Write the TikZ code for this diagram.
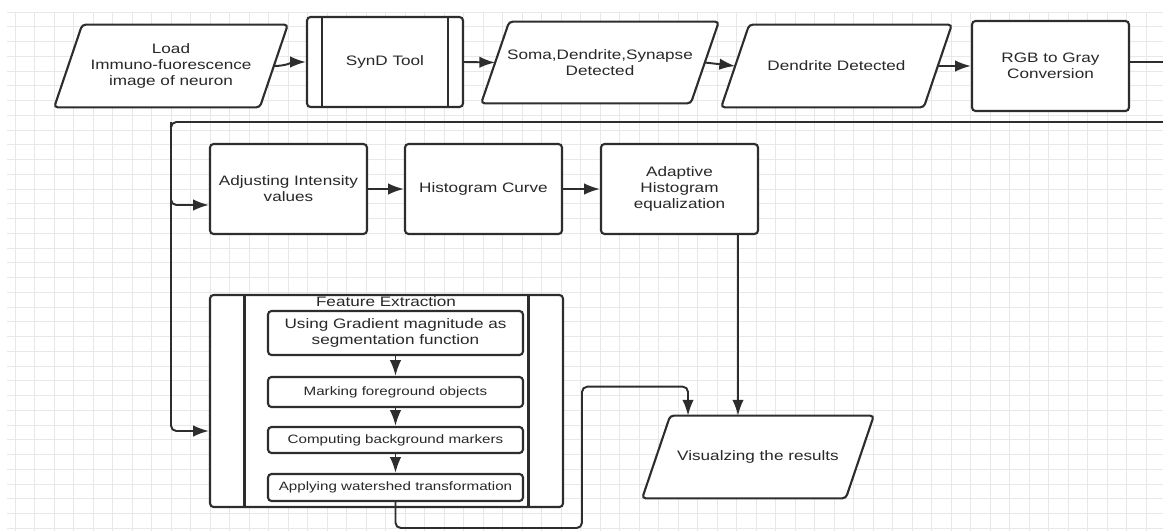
\documentclass[tikz,border=0pt]{standalone}
\usepackage{fontspec}
\setmainfont{Liberation Sans}[FakeStretch=1.25]
\usetikzlibrary{arrows.meta}
\definecolor{lcol}{RGB}{45,45,45}
\definecolor{tcol}{RGB}{40,40,40}
\definecolor{gcol}{RGB}{232,232,232}
\pgfdeclarelayer{back}
\pgfdeclarelayer{frames}
\pgfsetlayers{back,frames,main}
\tikzset{procbox/.style={draw=lcol,line width=1.2pt,rounded corners=2pt,fill=white,align=center,text=tcol,font=\fontsize{7.8}{9.1}\selectfont,inner sep=0pt}}
\tikzset{iobox/.style={align=center,text=tcol,font=\fontsize{7.8}{9.1}\selectfont,inner sep=0pt}}
\tikzset{subbox/.style={procbox,font=\fontsize{6.9}{8}\selectfont}}
\tikzset{ioline/.style={draw=lcol,line width=1.2pt,rounded corners=2pt,fill=white}}
\tikzset{barline/.style={draw=lcol,line width=1.2pt}}
\tikzset{edge/.style={draw=lcol,line width=1.1pt,-{Latex[length=9pt,width=6.5pt]}}}
\tikzset{wire/.style={draw=lcol,line width=1.1pt}}
\newcommand{\ioframe}[1]{\begin{pgfonlayer}{frames}\path[ioline] ([xshift=0.28cm]#1.north west) -- ([xshift=0.28cm]#1.north east) -- ([xshift=-0.28cm]#1.south east) -- ([xshift=-0.28cm]#1.south west) -- cycle;\end{pgfonlayer}}
\newcommand{\sidebars}[2]{\draw[barline] ([xshift=#2]#1.north west) -- ([xshift=#2]#1.south west); \draw[barline] ([xshift=-#2]#1.north east) -- ([xshift=-#2]#1.south east);}

\begin{document}
\begin{tikzpicture}[x=0.02cm,y=-0.02cm]
\useasboundingbox (0,0) rectangle (1163,531);

% grid paper
\begin{pgfonlayer}{back}
\begin{scope}
\clip (7,12) rectangle (1163,531);
\foreach \gx in {0,...,59} \draw[gcol,line width=0.45pt] (15+19.5*\gx,12) -- (15+19.5*\gx,531);
\foreach \gy in {0,...,35} \draw[gcol,line width=0.45pt] (7,12+14.75*\gy) -- (1163,12+14.75*\gy);
\end{scope}
\end{pgfonlayer}

% top row
\node [iobox,minimum width=4.1cm,minimum height=1.64cm] (load) at (171,66) {Load\\Immuno-fuorescence\\image of neuron};
\ioframe{load}
\node [procbox,minimum width=3.12cm,minimum height=1.8cm] (synd) at (385,62) {SynD Tool};
\sidebars{synd}{0.32cm}
\node [iobox,minimum width=4.18cm,minimum height=1.62cm] (soma) at (600,62.5) {Soma,Dendrite,Synapse\\Detected};
\ioframe{soma}
\node [iobox,minimum width=4.04cm,minimum height=1.64cm] (dend) at (836.5,66) {Dendrite Detected};
\ioframe{dend}
\node [procbox,minimum width=3.14cm,minimum height=1.8cm] (rgb) at (1050.5,66) {RGB to Gray\\Conversion};

% middle row
\node [procbox,minimum width=3.14cm,minimum height=1.8cm] (adj) at (288.5,189) {Adjusting Intensity\\values};
\node [procbox,minimum width=3.14cm,minimum height=1.8cm] (hist) at (483.5,189) {Histogram Curve};
\node [procbox,minimum width=3.14cm,minimum height=1.8cm] (adapt) at (679.5,189) {Adaptive\\Histogram\\equalization};

% feature extraction block
\node [procbox,minimum width=7.06cm,minimum height=4.24cm] (feat) at (386.5,401) {};
\sidebars{feat}{0.71cm}
\node [iobox] (feattitle) at (386,302) {Feature Extraction};
\node [procbox,minimum width=5.1cm,minimum height=0.88cm] (g1) at (395.5,333) {Using Gradient magnitude as\\segmentation function};
\node [subbox,minimum width=5.1cm,minimum height=0.6cm] (g2) at (395.5,392) {Marking foreground objects};
\node [subbox,minimum width=5.1cm,minimum height=0.52cm] (g3) at (395.5,440) {Computing background markers};
\node [subbox,minimum width=5.1cm,minimum height=0.54cm] (g4) at (395.5,487.5) {Applying watershed transformation};

\node [iobox,minimum width=4.06cm,minimum height=1.64cm] (vis) at (758,457) {Visualzing the results};
\ioframe{vis}

% connectors
\draw [edge] (load.east) to[out=0,in=180] (synd.west);
\draw [edge] (synd.east) -- (soma.west);
\draw [edge] (soma.east) -- (dend.west);
\draw [edge] (dend.east) -- (rgb.west);

\coordinate (rgbout) at (1163,62);
\draw [wire] (rgb.east |- rgbout) -- (rgbout);

\coordinate (wrapin) at (1163,122);
\coordinate (bus) at (171,122);
\draw [edge,rounded corners=3pt] (wrapin) -- (bus) |- ([yshift=-0.32cm]adj.west);
\draw [edge,rounded corners=3pt] (bus) |- ([yshift=-0.6cm]feat.west);

\draw [edge] (adj.east) -- (hist.west);
\draw [edge] (hist.east) -- (adapt.west);

\coordinate (eqdown) at ([xshift=1.17cm]adapt.south);
\draw [edge] (eqdown) -- (eqdown |- vis.north);

\foreach \a/\b in {g1/g2,g2/g3,g3/g4}
  \draw [edge] (\a.south) -- (\b.north);

\draw [edge,rounded corners=3pt] (g4.south) |- (582,528) |- ([xshift=-1.4cm,yshift=0.58cm]vis.north) -- ([xshift=-1.4cm]vis.north);
\end{tikzpicture}
\end{document}
